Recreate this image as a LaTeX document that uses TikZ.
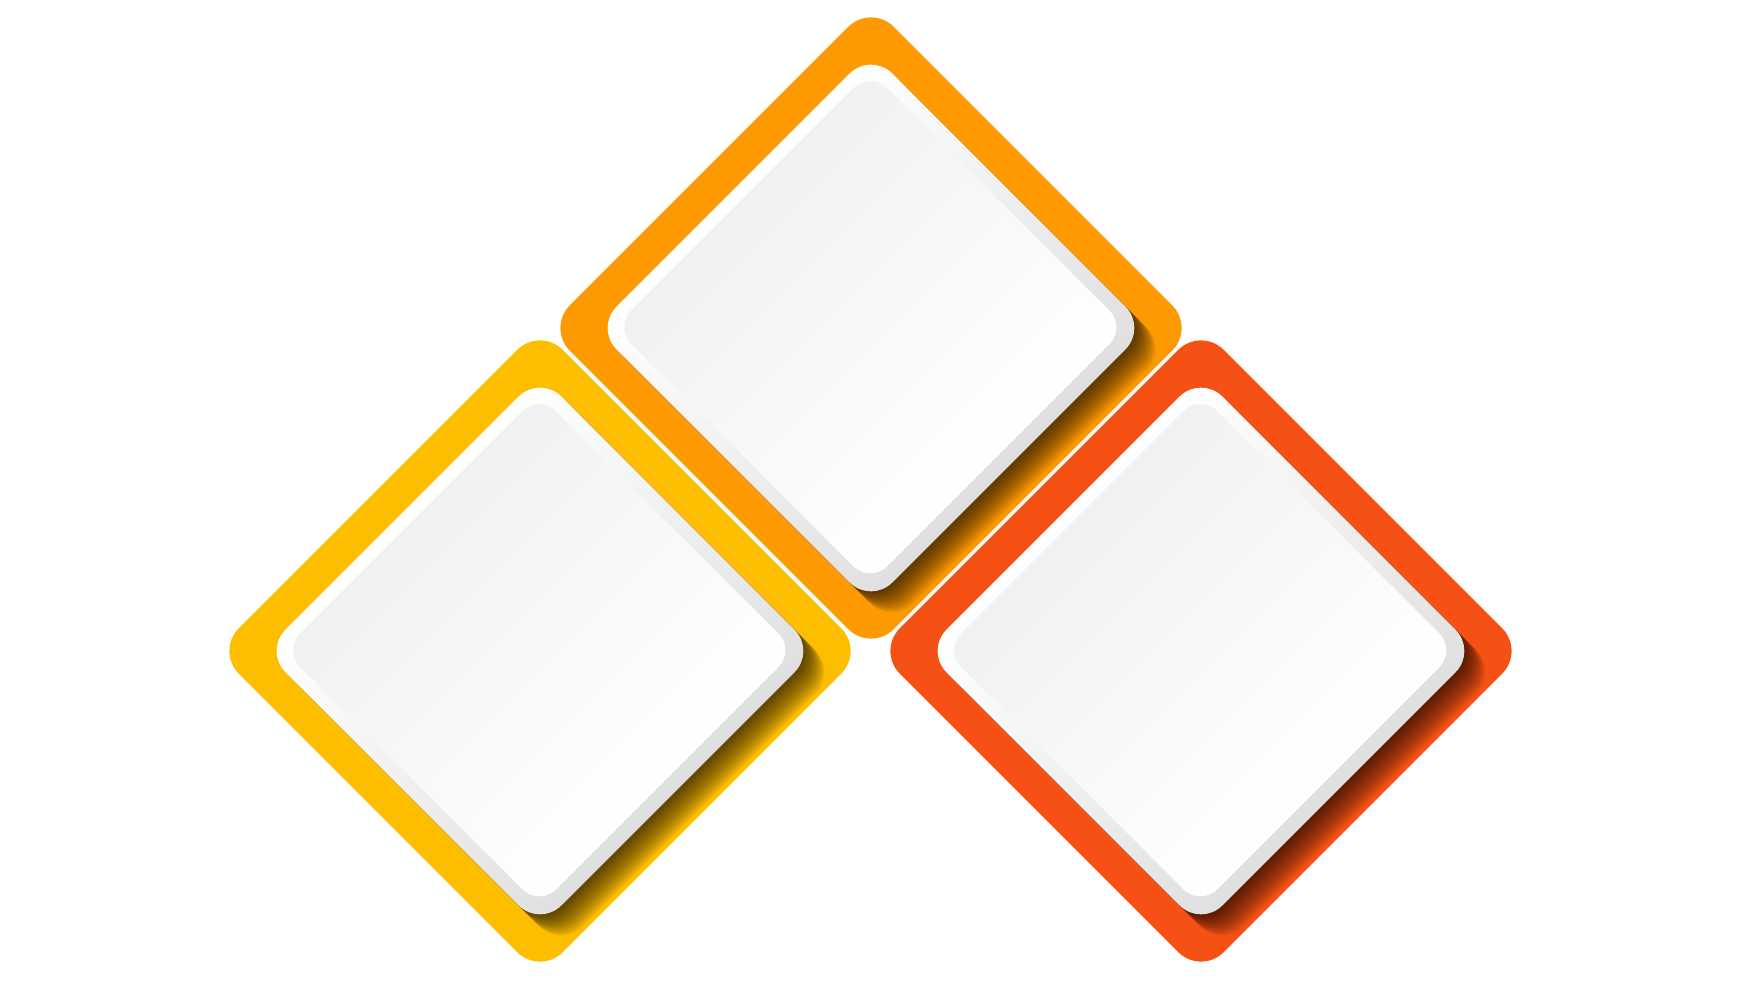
\documentclass[tikz,border=0pt]{standalone}
\usepackage{tikz}
\definecolor{cTop}{RGB}{253,154,1}
\definecolor{cLeft}{RGB}{253,190,0}
\definecolor{cRight}{RGB}{246,81,20}
\definecolor{rimgrey}{RGB}{224,224,224}
\definecolor{facegrey}{RGB}{241,241,241}
% rounded square of half side #1 centred at (#2,#3), started mid-edge
\newcommand{\rsqpath}[3]{(#2,#3-#1) -- (#2+#1,#3-#1) -- (#2+#1,#3+#1) -- (#2-#1,#3+#1) -- (#2-#1,#3-#1) -- cycle}
\tikzset{
  framecorner/.style={rounded corners=3.2mm},
  rimcorner/.style={rounded corners=3.0mm},
  facecorner/.style={rounded corners=2.4mm}
}
\newcommand{\tile}[3]{%
  \begin{scope}[transform canvas={shift={(#1,#2)},rotate=45}]
    % coloured frame
    \fill[#3, framecorner] \rsqpath{229}{0}{0};
    % cast shadow
    \begin{scope}
      \clip[framecorner] \rsqpath{229}{0}{0};
      \foreach \k in {1,...,15}{
        \fill[black, fill opacity=0.06, rimcorner] \rsqpath{195}{0}{-2.0*\k};
      }
    \end{scope}
    % raised white rim
    \shade[top color=white, bottom color=rimgrey, rimcorner] \rsqpath{195}{0}{0};
    % face
    \shade[top color=facegrey, bottom color=white, facecorner] \rsqpath{181}{0}{1};
  \end{scope}}
\begin{document}
\begin{tikzpicture}[x=0.1mm,y=0.1mm]
  \useasboundingbox[fill=white] (0,0) rectangle (1742,980);
  \tile{871}{652}{cTop}
  \tile{540}{329}{cLeft}
  \tile{1201}{329}{cRight}
\end{tikzpicture}
\end{document}
